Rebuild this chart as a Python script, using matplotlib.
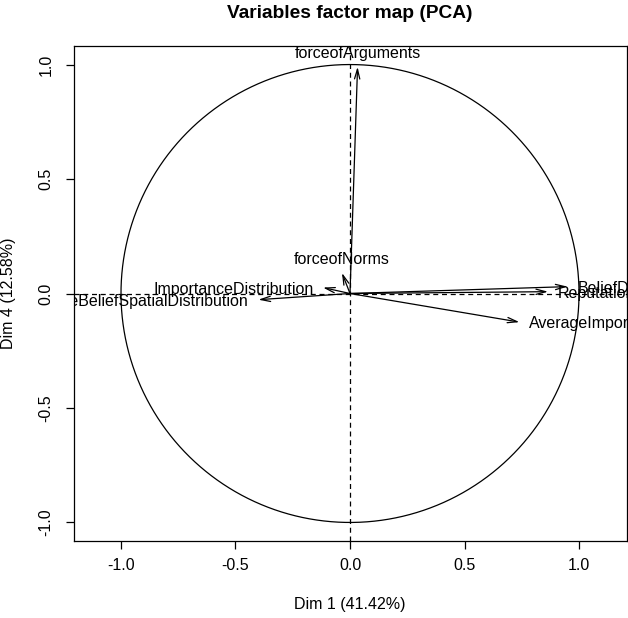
import numpy as np
import matplotlib
matplotlib.use("Agg")
import matplotlib.pyplot as plt

plt.rcParams['font.family'] = ['Liberation Sans', 'DejaVu Sans']

# variable coordinates on Dim 1 / Dim 4
variables = ["forceofArguments", "forceofNorms", "ImportanceDistribution",
             "AverageBeliefSpatialDistribution", "BeliefDistribution",
             "ReputationDistribution", "AverageImportance"]
dim1 = [0.033, -0.035, -0.118, -0.40, 0.95, 0.865, 0.74]
dim4 = [0.99, 0.09, 0.026, -0.027, 0.03, 0.008, -0.125]
# where the label sits relative to the arrow tip (R's pos: 2 left, 3 above, 4 right)
label_pos = [3, 3, 2, 2, 4, 4, 4]

ticks = [-1.0, -0.5, 0.0, 0.5, 1.0]

fig = plt.figure(figsize=(6.28, 6.18), dpi=100)
ax = fig.add_axes([73.5 / 628, 77 / 618, 553 / 628, 495 / 618])
ax.set_xlim(-1.2074, 1.2074)
ax.set_ylim(-1.081, 1.081)

# correlation circle and reference lines
t = np.linspace(0, 2 * np.pi, 400)
ax.plot(np.cos(t), np.sin(t), color='black', lw=0.9)
ax.axhline(0, color='black', lw=0.9, ls=(0, (4, 3)))
ax.axvline(0, color='black', lw=0.9, ls=(0, (4, 3)))

for name, x, y, p in zip(variables, dim1, dim4, label_pos):
    ax.annotate('', xy=(x, y), xytext=(0, 0),
                arrowprops=dict(arrowstyle='->,head_length=0.7,head_width=0.19',
                                color='black', lw=0.9, shrinkA=0, shrinkB=0,
                                mutation_scale=10))
    if p == 3:
        off, ha, va = (0, 6.5), 'center', 'baseline'
    elif p == 2:
        off, ha, va = (-7, 0), 'right', 'center_baseline'
    else:
        off, ha, va = (7, 0), 'left', 'center_baseline'
    ax.annotate(name, xy=(x, y), xytext=off, textcoords='offset points',
                ha=ha, va=va, fontsize=11.5, annotation_clip=False,
                clip_on=True)

ax.set_xticks(ticks)
ax.set_yticks(ticks)
ax.set_xticklabels([f"{v:.1f}" for v in ticks])
ax.set_yticklabels([f"{v:.1f}" for v in ticks], rotation=90, va='center')
ax.tick_params(direction='out', length=5.5, width=0.9, labelsize=11.5, pad=7)
ax.tick_params(axis='y', pad=9)
for s in ax.spines.values():
    s.set_linewidth(0.9)

ax.set_title("Variables factor map (PCA)", fontsize=13.8, fontweight='bold', pad=20)
ax.set_xlabel("Dim 1 (41.42%)", fontsize=11.5, labelpad=17)
ax.set_ylabel("Dim 4 (12.58%)", fontsize=11.5, labelpad=16)

fig.savefig("out.png", dpi=100)
